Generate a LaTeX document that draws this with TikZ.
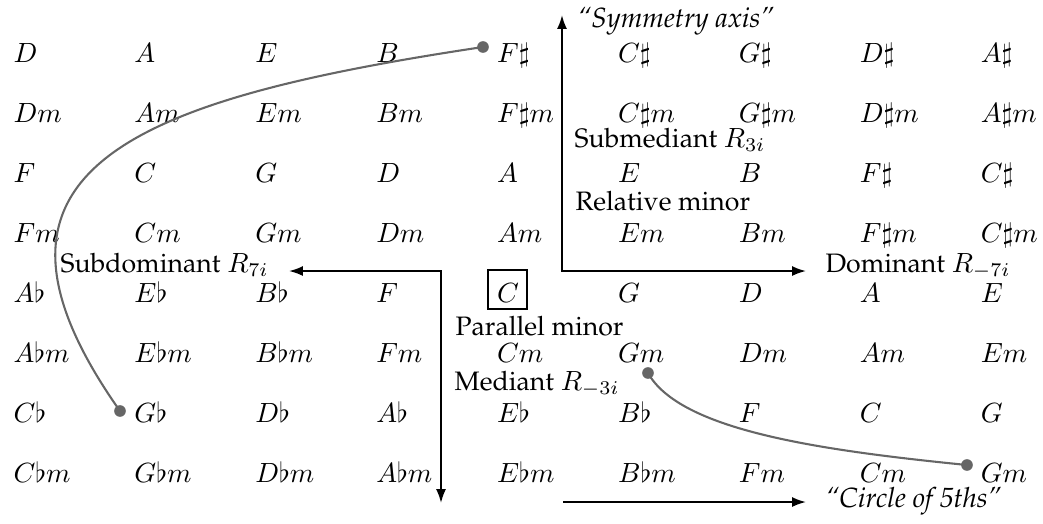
\documentclass[tikz,border=0pt]{standalone}
\usepackage[T1]{fontenc}
\renewcommand{\rmdefault}{ppl}
\usetikzlibrary{arrows.meta}
\definecolor{linkgray}{RGB}{102,102,102}
\begin{document}
\begin{tikzpicture}[x=0.36pt,y=-0.36pt,
  chord/.style={anchor=base west, inner sep=0pt},
  lbl/.style={anchor=base west, inner sep=0pt, font=\fontsize{9.6}{12}\selectfont},
  ilbl/.style={anchor=base west, inner sep=0pt, font=\itshape},
  axisarrow/.style={line width=0.7pt, {Latex[length=5pt,width=3.6pt]}-{Latex[length=5pt,width=3.6pt]}},
  onearrow/.style={line width=0.7pt, -{Latex[length=5pt,width=3.6pt]}},
  link/.style={draw=linkgray, line width=0.75pt},
  linkdot/.style={circle, fill=linkgray, inner sep=0pt, minimum size=4.2pt}]
\useasboundingbox (0,0) rectangle (1043,523);
% chord grid
\foreach \t [count=\i from 0] in {D,A,E,B,F\sharp,C\sharp,G\sharp,D\sharp,A\sharp}
  \node[chord] (r1c\i) at ({13+120.9*\i},62) {$\t$};
\foreach \t [count=\i from 0] in {Dm,Am,Em,Bm,F\sharp m,C\sharp m,G\sharp m,D\sharp m,A\sharp m}
  \node[chord] (r2c\i) at ({13+120.9*\i},122) {$\t$};
\foreach \t [count=\i from 0] in {F,C,G,D,A,E,B,F\sharp,C\sharp}
  \node[chord] (r3c\i) at ({13+120.9*\i},182) {$\t$};
\foreach \t [count=\i from 0] in {Fm,Cm,Gm,Dm,Am,Em,Bm,F\sharp m,C\sharp m}
  \node[chord] (r4c\i) at ({13+120.9*\i},242) {$\t$};
\foreach \t [count=\i from 0] in {A\flat,E\flat,B\flat,F,C,G,D,A,E}
  \node[chord] (r5c\i) at ({13+120.9*\i},302) {$\t$};
\foreach \t [count=\i from 0] in {A\flat m,E\flat m,B\flat m,Fm,Cm,Gm,Dm,Am,Em}
  \node[chord] (r6c\i) at ({13+120.9*\i},362) {$\t$};
\foreach \t [count=\i from 0] in {C\flat,G\flat,D\flat,A\flat,E\flat,B\flat,F,C,G}
  \node[chord] (r7c\i) at ({13+120.9*\i},422) {$\t$};
\foreach \t [count=\i from 0] in {C\flat m,G\flat m,D\flat m,A\flat m,E\flat m,B\flat m,Fm,Cm,Gm}
  \node[chord] (r8c\i) at ({13+120.9*\i},482) {$\t$};
% box around C
\node[draw, line width=0.7pt, minimum width=14pt, minimum height=14pt, inner sep=0pt] (cbox) at (507.5,289.5) {};
% axes
\coordinate (o1) at (562,271);
\coordinate (symtop) at (562,15);
\coordinate (domtip) at (806,271);
\coordinate (o2) at (441,271);
\coordinate (subtip) at (289,271);
\coordinate (medtip) at (441,503);
\coordinate (cfs) at (563,502);
\coordinate (cfe) at (806,502);
\draw[axisarrow] (symtop) -- (o1) -- (domtip);
\draw[axisarrow] (subtip) -- (o2) -- (medtip);
\draw[onearrow] (cfs) -- (cfe);
% labels
\node[ilbl] (symlbl) at (577,27) {``Symmetry axis''};
\node[lbl] (submed) at (574,147) {Submediant $R_{3i}$};
\node[lbl] (relmin) at (575,210) {Relative minor};
\node[lbl] (domlbl) at (825,272) {Dominant $R_{-7i}$};
\node[lbl] (subdom) at (60,272) {Subdominant $R_{7i}$};
\node[lbl] (parmin) at (455,335) {Parallel minor};
\node[lbl] (medlbl) at (454,390) {Mediant $R_{-3i}$};
\node[ilbl] (cfifth) at (825,507) {``Circle of 5ths''};
% gray links
\node[linkdot] (d1) at (483,47) {};
\node[linkdot] (d2) at (120,411) {};
\node[linkdot] (d3) at (648,373) {};
\node[linkdot] (d4) at (967,465) {};
\draw[link] (d1.center) .. controls (130,100) and (-50,170) .. (d2.center);
\draw[link] (d3.center) .. controls (680,430) and (817,450) .. (d4.center);
\end{tikzpicture}
\end{document}
